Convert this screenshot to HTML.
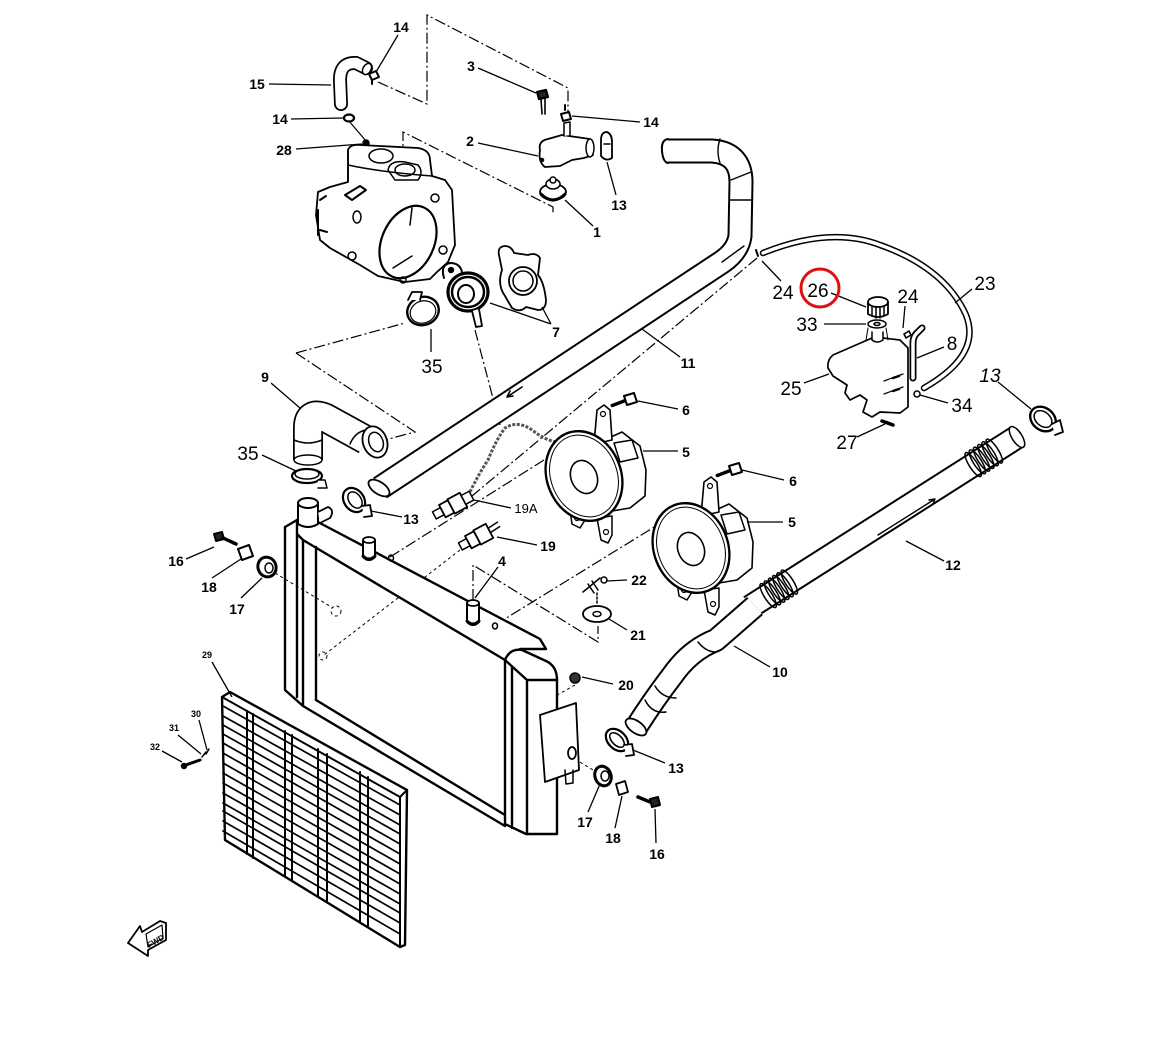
<!DOCTYPE html>
<html><head><meta charset="utf-8"><style>
html,body{margin:0;padding:0;background:#fff;}
svg{display:block;}
.b{font-family:"Liberation Sans",sans-serif;font-weight:bold;font-size:14px;fill:#000;}
.r{font-family:"Liberation Sans",sans-serif;font-size:19px;fill:#000;}
.s{font-family:"Liberation Sans",sans-serif;font-weight:bold;font-size:9px;fill:#000;}
</style></head><body>
<svg width="1151" height="1039" viewBox="0 0 1151 1039" xmlns="http://www.w3.org/2000/svg">
<rect width="1151" height="1039" fill="#fff"/>
<defs>
<g id="fan">
 <path d="M600,442 L622,432 L640,446 L646,470 L645,496 L630,508 L606,512 Z" fill="#fff" stroke="#000" stroke-width="1.6"/>
 <path d="M614,443 L632,440 L638,458 L620,462 Z" fill="#fff" stroke="#000" stroke-width="1.5"/>
 <path d="M594,444 L597,410 L604,405 L610,410 L612,440 Z" fill="#fff" stroke="#000" stroke-width="1.6"/>
 <circle cx="603" cy="414" r="2.5" fill="none" stroke="#000" stroke-width="1.2"/>
 <path d="M570,510 L572,524 L580,528 L585,520 L584,510 Z" fill="#fff" stroke="#000" stroke-width="1.5"/>
 <circle cx="577" cy="518" r="2.5" fill="none" stroke="#000" stroke-width="1.2"/>
 <path d="M597,518 L601,540 L608,543 L612,535 L612,516 Z" fill="#fff" stroke="#000" stroke-width="1.5"/>
 <circle cx="606" cy="532" r="2.5" fill="none" stroke="#000" stroke-width="1.2"/>
 <ellipse cx="584" cy="476" rx="37" ry="46" transform="rotate(-22 584 476)" fill="#fff" stroke="#000" stroke-width="2.4"/>
 <ellipse cx="584" cy="476" rx="33" ry="42" transform="rotate(-22 584 476)" fill="none" stroke="#000" stroke-width="1"/>
 <ellipse cx="584" cy="477" rx="13" ry="17" transform="rotate(-22 584 477)" fill="#fff" stroke="#000" stroke-width="1.6"/>
</g>
<g id="spring">
 <ellipse cx="0" cy="0" rx="4" ry="14" fill="none" stroke="#000" stroke-width="1.5"/>
</g>
</defs>

<!-- dash-dot construction lines -->
<g stroke="#000" stroke-width="1.2" fill="none" stroke-dasharray="11 3 2 3">
 <path d="M378,82 L427,104 L427,15 L568,88 L568,113"/>
 <path d="M403,160 L403,132 L553,207 L553,213"/>
 <path d="M296,353 L405,323"/>
 <path d="M296,353 L415,432 L377,442"/>
 <path d="M475,330 L500,425"/>
 <path d="M757,258 L472,496"/>
 <path d="M390,557 L560,450"/>
 <path d="M495,625 L690,505"/>
 <path d="M473,600 L473,565 L598,642 L598,626"/>
</g>
<g stroke="#000" stroke-width="1" fill="none" stroke-dasharray="3 3">
 <path d="M270,570 L333,608"/>
 <path d="M460,550 L324,655"/>
 <path d="M575,685 L545,702"/>
 <path d="M598,773 L560,750"/>
 <path d="M540,722 L578,742"/>
 <circle cx="336" cy="611" r="5"/>
 <circle cx="323" cy="656" r="4"/>
</g>

<!-- chain wire -->
<path d="M468,496 Q478,475 488,460 Q496,440 505,428 Q518,420 532,430 Q545,440 556,442" fill="none" stroke="#555" stroke-width="3" stroke-dasharray="3 1.5"/>

<g stroke="#000" fill="none" stroke-width="1.5" stroke-linecap="round" stroke-linejoin="round">

<!-- Hose 15 -->
<path d="M341,104 L340,80 Q340,62 356,63 L366,68" stroke-width="14"/>
<path d="M341,104 L340,80 Q340,62 356,63 L366,68" stroke="#fff" stroke-width="10.5"/>
<ellipse cx="367" cy="69" rx="4" ry="6" transform="rotate(30 367 69)" fill="#fff"/>
<!-- 14 clips -->
<path d="M369,74 l7,-3 l3,6 l-7,3 z M372,80 l0,4" stroke-width="2"/>
<ellipse cx="349" cy="118" rx="5" ry="3.5" stroke-width="2.2"/>
<path d="M561,114 l8,-2 l2,7 l-8,2 z M565,110 l0,-5" stroke-width="2"/>
<!-- 3 bolt -->
<path d="M537,92 l9,-2 l2,7 l-9,2 z" stroke-width="2.2" fill="#222"/>
<path d="M541,99 L542,114 M545,99 L545,114" stroke-width="1.6"/>
<!-- 28 -->
<circle cx="366" cy="143" r="3" fill="#000"/>
<path d="M349,121 L366,141" stroke-width="1.2"/>

<!-- engine block / thermostat housing -->
<path d="M348,150 Q350,144 360,145 L418,148 Q430,150 430,160 L432,176 L445,180 L452,190 L455,245 L448,262 L437,272 L430,279 L405,282 L378,276 L360,265 L330,248 L320,240 L316,215 L318,192 L330,187 L348,182 Z" fill="#fff" stroke-width="1.8"/>
<path d="M348,150 L348,182 M348,165 Q380,172 432,176"/>
<ellipse cx="381" cy="156" rx="12" ry="7"/>
<path d="M388,170 Q390,160 405,162 L418,165 Q424,172 418,180 L395,180 Z"/>
<ellipse cx="405" cy="170" rx="10" ry="6"/>
<ellipse cx="408" cy="242" rx="26" ry="38" transform="rotate(25 408 242)" stroke-width="2.2"/>
<path d="M412,208 L410,225 M393,268 L412,256"/>
<ellipse cx="357" cy="217" rx="4" ry="6"/>
<path d="M345,195 L360,186 L366,190 L352,200 Z" stroke-width="2"/>
<path d="M320,200 L326,196 M320,230 L327,232 M318,210 L318,235" stroke-width="2"/>
<circle cx="352" cy="256" r="4"/>
<circle cx="443" cy="250" r="4"/>
<circle cx="435" cy="198" r="4"/>
<circle cx="403" cy="280" r="3"/>

<!-- Part 2 thermostat cover -->
<path d="M540,150 Q538,141 548,139 L562,135 L576,137 L590,139 L593,155 L584,158 L572,160 L560,166 L545,167 Q538,162 540,150 Z" fill="#fff" stroke-width="1.8"/>
<path d="M564,136 L564,123 L570,122 L570,135" fill="#fff"/>
<ellipse cx="590" cy="148" rx="4" ry="9" fill="#fff"/>
<circle cx="542" cy="160" r="1.5" fill="#000"/>
<!-- 13 clip -->
<path d="M601,140 Q601,132 607,132 Q612,134 612,142 L612,158 Q606,162 601,156 Z" fill="#fff" stroke-width="1.8"/>
<path d="M604,144 L610,144"/>
<!-- Part 1 thermostat -->
<ellipse cx="553" cy="192" rx="13" ry="8" fill="#fff" stroke-width="1.8"/>
<path d="M541,194 Q553,206 565,194" stroke-width="3"/>
<ellipse cx="553" cy="184" rx="7" ry="5" fill="#fff"/>
<circle cx="553" cy="180" r="3" fill="#fff"/>

<!-- Part 7 filler neck -->
<path d="M444,278 Q440,265 450,263 Q460,263 462,272" fill="#fff" stroke-width="2"/>
<circle cx="451" cy="270" r="2.5" fill="#000"/>
<ellipse cx="468" cy="292" rx="20" ry="19" fill="#fff" stroke-width="3.2" stroke-dasharray="3 1"/>
<ellipse cx="468" cy="292" rx="16" ry="15" fill="#fff" stroke-width="2.5"/>
<ellipse cx="466" cy="294" rx="8" ry="9" fill="#fff" stroke-width="2"/>
<path d="M472,311 L476,327 L482,326 L479,309" fill="#fff" stroke-width="1.8"/>
<!-- cap -->
<path d="M499,255 Q497,246 506,246 Q512,247 514,253 L528,255 Q536,252 540,258 L538,275 Q544,282 546,300 Q546,310 538,310 L526,307 Q520,313 512,308 L505,296 Q497,285 502,270 Z" fill="#fff" stroke-width="1.8"/>
<circle cx="523" cy="281" r="14" fill="#fff" stroke-width="1.8"/>
<circle cx="523" cy="281" r="10"/>
<!-- clamp 35 upper -->
<ellipse cx="423" cy="311" rx="16" ry="14" transform="rotate(-20 423 311)" fill="#fff" stroke-width="2.4"/>
<ellipse cx="423" cy="312" rx="13" ry="11" transform="rotate(-20 423 312)" stroke-width="1.2"/>
<path d="M408,300 L412,292 L422,292 L420,300" fill="#fff" stroke-width="1.8"/>

<!-- Hose 11 -->
<path d="M668,151 L712,151 Q741,153 741,182 L740,236 Q738,251 722,262 L380,488" stroke-width="25" stroke-linecap="butt"/>
<path d="M668,151 L712,151 Q741,153 741,182 L740,236 Q738,251 722,262 L380,488" stroke="#fff" stroke-width="21" stroke-linecap="butt"/>
<path d="M668,139 Q661,140 662,151 Q663,162 668,163" stroke-width="2"/>
<path d="M720,139 Q716,151 720,163 M730,200 L752,200 M731,180 L751,172 M722,262 L744,246" stroke-width="1.4"/>
<ellipse cx="379" cy="488" rx="6" ry="12" transform="rotate(-56 379 488)" fill="#fff" stroke-width="1.8"/>
<path d="M507,397 L522,387 M507,397 l3,-6 M507,397 l6,-1" stroke-width="1.6"/>

<!-- Hose 9 -->
<path d="M308,460 L308,428 Q308,410 326,418 L366,440" stroke-width="30" stroke-linecap="butt"/>
<path d="M308,460 L308,428 Q308,410 326,418 L366,440" stroke="#fff" stroke-width="26.5" stroke-linecap="butt"/>
<path d="M294,440 Q308,446 322,440 M350,444 Q355,432 366,430"/>
<ellipse cx="375" cy="442" rx="12" ry="16" transform="rotate(-20 375 442)" fill="#fff" stroke-width="1.8"/>
<ellipse cx="376" cy="442" rx="7" ry="10" transform="rotate(-20 376 442)" stroke-width="1.5"/>
<ellipse cx="308" cy="460" rx="14" ry="5" fill="#fff"/>
<!-- clamp 35 lower -->
<ellipse cx="307" cy="476" rx="15" ry="7" fill="#fff" stroke-width="2.2"/>
<ellipse cx="307" cy="474" rx="12" ry="5"/>
<path d="M318,480 L325,480 L327,488 L318,488" fill="#fff"/>

<!-- Radiator -->
<g stroke-width="2.4">
<path d="M297,520 L316,521 L540,639 L546,649 L520,649 L505,660 L303,540 L297,534 Z" fill="#fff"/>
<path d="M285,527 L297,520 M285,527 L285,690 L303,706 L505,826 M316,700 L505,815"/>
<path d="M297,534 L297,697 M303,540 L303,706 M316,547 L316,700"/>
<path d="M505,660 L505,824 L526,834 L557,834 L557,680 Q557,666 546,661 L522,650 Q510,648 505,660 Z" fill="#fff"/>
<path d="M505,660 L527,680 L557,680 M527,680 L527,834 M512,667 L512,828"/>
</g>
<!-- filler neck on radiator -->
<path d="M298,503 L298,524 Q308,530 318,524 L318,503" fill="#fff" stroke-width="2"/>
<ellipse cx="308" cy="503" rx="10" ry="5" fill="#fff" stroke-width="2"/>
<path d="M318,512 L328,507 Q335,510 330,518 L320,523" fill="#fff" stroke-width="1.8"/>
<!-- clamp 13 -->
<ellipse cx="354" cy="500" rx="10" ry="13" transform="rotate(-35 354 500)" fill="#fff" stroke-width="2.2"/>
<ellipse cx="355" cy="500" rx="6" ry="9" transform="rotate(-35 355 500)"/>
<path d="M362,506 L370,505 L372,516 L364,517" fill="#fff" stroke-width="1.8"/>
<!-- studs -->
<path d="M363,540 L363,557 Q369,563 375,557 L375,540" fill="#fff" stroke-width="2"/>
<ellipse cx="369" cy="540" rx="6" ry="3" fill="#fff" stroke-width="1.8"/>
<path d="M363,556 Q369,562 375,556" stroke-width="3"/>
<path d="M467,603 L467,622 Q473,628 479,622 L479,603" fill="#fff" stroke-width="2"/>
<ellipse cx="473" cy="603" rx="6" ry="3" fill="#fff" stroke-width="1.8"/>
<path d="M467,621 Q473,627 479,621" stroke-width="3"/>
<ellipse cx="391" cy="558" rx="2.5" ry="3"/>
<ellipse cx="495" cy="626" rx="2.5" ry="3"/>
<!-- bracket on right tank -->
<path d="M540,715 L576,703 L579,770 L545,782 Z" fill="#fff" stroke-width="1.8"/>
<ellipse cx="572" cy="753" rx="4" ry="6" stroke-width="1.8"/>
<path d="M565,770 L566,784 L573,783 L573,770"/>
<!-- 20 nut -->
<circle cx="575" cy="678" r="5" fill="#333"/>

<!-- Sensors -->
<g transform="translate(452,506) rotate(-28)">
 <rect x="-20" y="-4" width="9" height="8" fill="#fff"/>
 <rect x="-11" y="-7" width="10" height="14" fill="#fff" stroke-width="1.8"/>
 <rect x="-1" y="-8" width="14" height="16" fill="#fff" stroke-width="1.8"/>
 <rect x="13" y="-5" width="9" height="10" fill="#fff"/>
</g>
<g transform="translate(478,537) rotate(-28)">
 <rect x="-20" y="-4" width="9" height="8" fill="#fff"/>
 <rect x="-11" y="-7" width="10" height="14" fill="#fff" stroke-width="1.8"/>
 <rect x="-1" y="-8" width="14" height="16" fill="#fff" stroke-width="1.8"/>
 <path d="M13,-3 L24,-4 M13,2 L24,1"/>
</g>

<!-- 16 18 17 left -->
<path d="M214,534 l8,-2 l2,7 l-8,2 z" fill="#222" stroke-width="2"/>
<path d="M223,538 L236,544" stroke-width="3.5" stroke-dasharray="2 1.5"/>
<path d="M238,549 L249,545 L253,556 L242,560 Z" fill="#fff" stroke-width="2"/>
<ellipse cx="267" cy="567" rx="9" ry="10" transform="rotate(-20 267 567)" fill="#fff" stroke-width="3"/>
<ellipse cx="269" cy="568" rx="4" ry="5" fill="#fff" stroke-width="1.5"/>

<!-- Fans -->
<use href="#fan"/>
<use href="#fan" transform="translate(107,72)"/>
<!-- bolts 6 -->
<path d="M624,396 l10,-3 l3,9 l-10,3 z" fill="#fff" stroke-width="2"/>
<path d="M624,401 L611,406" stroke-width="3.5" stroke-dasharray="2 1.5"/>
<path d="M729,466 l10,-3 l3,9 l-10,3 z" fill="#fff" stroke-width="2"/>
<path d="M729,471 L716,476" stroke-width="3.5" stroke-dasharray="2 1.5"/>
<!-- 22, 21 -->
<path d="M583,592 L600,578 M588,584 L594,593 M592,581 L598,590"/>
<circle cx="604" cy="580" r="3"/>
<path d="M597,593 L597,605" stroke-dasharray="2 2"/>
<ellipse cx="597" cy="614" rx="14" ry="8" fill="#fff" stroke-width="1.8"/>
<ellipse cx="597" cy="614" rx="4" ry="2.5"/>

<!-- Hose 12 -->
<path d="M1017,437 L750,607" stroke-width="25" stroke-linecap="butt"/>
<path d="M1017,437 L750,607" stroke="#fff" stroke-width="21" stroke-linecap="butt"/>
<ellipse cx="1017" cy="437" rx="5" ry="12" transform="rotate(-32.5 1017 437)" fill="#fff"/>
<path d="M878,535 L935,499 M935,499 l-6,1 M935,499 l-2,5" stroke-width="1.4"/>
<g transform="translate(985,457) rotate(-32.5)">
 <use href="#spring" x="-14"/><use href="#spring" x="-9"/><use href="#spring" x="-4"/><use href="#spring" x="1"/><use href="#spring" x="6"/><use href="#spring" x="11"/>
</g>
<!-- Hose 10 -->
<path d="M637,726 Q655,698 672,676 Q690,650 716,640 L755,606" stroke-width="24" stroke-linecap="butt"/>
<path d="M637,726 Q655,698 672,676 Q690,650 716,640 L755,606" stroke="#fff" stroke-width="20" stroke-linecap="butt"/>
<ellipse cx="636" cy="727" rx="6" ry="12" transform="rotate(-55 636 727)" fill="#fff" stroke-width="1.8"/>
<path d="M645,700 Q652,714 666,712 M655,686 Q662,698 676,698 M698,642 Q706,652 716,652"/>
<g transform="translate(780,588) rotate(-32.5)">
 <use href="#spring" x="-14"/><use href="#spring" x="-9"/><use href="#spring" x="-4"/><use href="#spring" x="1"/><use href="#spring" x="6"/><use href="#spring" x="11"/>
</g>
<!-- clamp 13 lower -->
<ellipse cx="617" cy="740" rx="9" ry="13" transform="rotate(-45 617 740)" fill="#fff" stroke-width="2.2"/>
<ellipse cx="617" cy="740" rx="5" ry="9" transform="rotate(-45 617 740)"/>
<path d="M624,745 L632,744 L634,755 L626,756" fill="#fff" stroke-width="1.8"/>
<!-- 17 18 16 right -->
<ellipse cx="603" cy="776" rx="8" ry="10" transform="rotate(-20 603 776)" fill="#fff" stroke-width="3"/>
<ellipse cx="605" cy="776" rx="4" ry="5" fill="#fff"/>
<path d="M616,784 L625,781 L628,792 L619,795 Z" fill="#fff" stroke-width="1.8"/>
<path d="M638,797 L650,802" stroke-width="3.5" stroke-dasharray="2 1.5"/>
<path d="M650,799 l8,-2 l2,8 l-8,2 z" fill="#222" stroke-width="2"/>

<!-- clamp 13 upper right -->
<ellipse cx="1043" cy="419" rx="11" ry="14" transform="rotate(-50 1043 419)" fill="#fff" stroke-width="2.4"/>
<ellipse cx="1043" cy="419" rx="7" ry="10" transform="rotate(-50 1043 419)"/>
<path d="M1052,424 L1060,420 L1063,432 L1055,435" fill="#fff" stroke-width="1.8"/>

<!-- Hose 23 -->
<path d="M763,253 Q830,226 880,245 Q945,268 966,315 Q982,355 924,388" stroke-width="6.5"/>
<path d="M763,253 Q830,226 880,245 Q945,268 966,315 Q982,355 924,388" stroke="#fff" stroke-width="3.5"/>
<path d="M756,250 L758,256" stroke-width="2"/>
<!-- Reservoir 25 -->
<path d="M872,338 L833,355 Q827,360 828,368 L833,376 L847,385 L845,393 L850,400 L860,395 L867,400 L863,412 L872,417 L880,412 L900,413 L908,407 L908,348 L900,340 L883,338" fill="#fff" stroke-width="1.7"/>
<path d="M872,332 L872,340 Q877,344 883,340 L883,332" fill="#fff"/>
<path d="M866,340 L868,328 M888,340 L886,328" stroke-width="1"/>
<path d="M884,381 L903,374 M884,394 L903,387" stroke-width="1.2"/>
<path d="M893,378 l6,-2 M893,391 l6,-2" stroke-width="2.5"/>
<path d="M904,334 l5,-3 l2,4 l-5,3 z" stroke-width="1.6"/>
<!-- tube 8 -->
<path d="M913,378 L913,343 Q913,336 918,332 L922,328" stroke-width="7"/>
<path d="M913,378 L913,343 Q913,336 918,332 L922,328" stroke="#fff" stroke-width="3.5"/>
<circle cx="917" cy="394" r="3"/>
<!-- cap 26 -->
<path d="M868,302 L868,314 Q878,320 888,314 L888,302" fill="#fff" stroke-width="1.8"/>
<ellipse cx="878" cy="302" rx="10" ry="5" fill="#fff" stroke-width="1.8"/>
<path d="M872,307 L872,316 M876,308 L876,318 M880,308 L880,318 M884,307 L884,316"/>
<ellipse cx="877" cy="324" rx="9" ry="4"/>
<ellipse cx="877" cy="324" rx="3" ry="1.5"/>
<!-- 27 bolt -->
<path d="M882,421 L893,425" stroke-width="3.5"/>

<!-- Grille 29 -->
<path d="M222,697 L230,692 L407,790 L405,945 L400,947 L225,840 Z" fill="#fff" stroke-width="2.4"/>
<path d="M222,697 L400,797 L400,945 M400,797 L407,790" stroke-width="2"/>
<g stroke-width="1.7">
<path d="M223,706 L400,805 M223,716 L400,815 M223,725 L400,825 M223,734 L400,834 M223,743 L400,844 M223,753 L400,854 M223,763 L400,864 M223,773 L400,874 M223,783 L400,884 M223,793 L400,894 M223,803 L400,904 M223,811 L400,913 M223,821 L400,923 M223,831 L400,934"/>
</g>
<g stroke-width="2">
<path d="M247,711 L247,854 M253,714 L253,858 M285,731 L285,877 M292,735 L292,881 M318,749 L318,896 M327,754 L327,901 M360,772 L360,921 M368,777 L368,926"/>
</g>
<!-- 30 31 32 screws -->
<path d="M183,766 L200,760" stroke-width="3"/>
<circle cx="184" cy="766" r="2.5" fill="#000"/>
<path d="M202,757 L206,752 M206,754 L209,749" stroke-width="1.5"/>
<!-- FWD arrow -->
<path d="M128,943 L140,926 L142,932 L160,921 L166,923 L166,940 L148,950 L148,956 Z" fill="#fff" stroke-width="1.8"/>
<path d="M146,934 L162,925 L163,938 L148,947 Z" stroke-width="1.2"/>
</g>
<text x="155" y="944" transform="rotate(-30 155 940)" font-family="Liberation Sans,sans-serif" font-weight="bold" font-size="8" text-anchor="middle">FWD</text>

<!-- leader lines -->
<g stroke="#000" stroke-width="1.3" fill="none">
 <path d="M398,35 L376,72"/>
 <path d="M269,84 L331,85"/>
 <path d="M478,68 L536,93"/>
 <path d="M291,119 L343,118"/>
 <path d="M640,122 L572,116"/>
 <path d="M478,143 L538,156"/>
 <path d="M296,149 L362,144"/>
 <path d="M616,195 L607,162"/>
 <path d="M593,226 L565,200"/>
 <path d="M551,324 L490,303 M551,324 L542,307"/>
 <path d="M431,329 L431,352"/>
 <path d="M271,383 L300,408"/>
 <path d="M680,357 L642,329"/>
 <path d="M678,409 L638,401"/>
 <path d="M781,281 L762,261"/>
 <path d="M831,293 L866,307"/>
 <path d="M905,306 L903,328"/>
 <path d="M972,289 L955,303"/>
 <path d="M824,324 L866,324"/>
 <path d="M944,347 L917,358"/>
 <path d="M804,383 L829,374"/>
 <path d="M998,382 L1031,409"/>
 <path d="M948,403 L920,395"/>
 <path d="M857,437 L885,424"/>
 <path d="M262,455 L296,471"/>
 <path d="M678,451 L643,451"/>
 <path d="M784,480 L742,470"/>
 <path d="M783,522 L747,522"/>
 <path d="M402,517 L371,511"/>
 <path d="M511,508 L474,500"/>
 <path d="M537,545 L497,537"/>
 <path d="M186,559 L214,547"/>
 <path d="M498,567 L475,598"/>
 <path d="M944,561 L906,541"/>
 <path d="M212,578 L241,559"/>
 <path d="M627,580 L607,581"/>
 <path d="M241,598 L262,578"/>
 <path d="M627,630 L609,619"/>
 <path d="M212,662 L232,697"/>
 <path d="M613,684 L582,677"/>
 <path d="M770,667 L734,646"/>
 <path d="M199,720 L207,750"/>
 <path d="M178,735 L201,754"/>
 <path d="M162,751 L182,762"/>
 <path d="M665,763 L633,750"/>
 <path d="M588,812 L600,784"/>
 <path d="M615,828 L622,796"/>
 <path d="M656,843 L655,809"/>
</g>

<!-- labels -->
<g text-anchor="middle">
<text class="b" x="401" y="32">14</text>
<text class="b" x="257" y="89">15</text>
<text class="b" x="471" y="71">3</text>
<text class="b" x="280" y="124">14</text>
<text class="b" x="651" y="127">14</text>
<text class="b" x="470" y="146">2</text>
<text class="b" x="284" y="155">28</text>
<text class="b" x="619" y="210">13</text>
<text class="b" x="597" y="237">1</text>
<text class="b" x="556" y="337">7</text>
<text class="r" x="432" y="373">35</text>
<text class="b" x="265" y="382">9</text>
<text class="b" x="688" y="368">11</text>
<text class="b" x="686" y="415">6</text>
<text class="r" x="783" y="299">24</text>
<text class="r" x="818" y="297">26</text>
<text class="r" x="908" y="303">24</text>
<text class="r" x="985" y="290">23</text>
<text class="r" x="807" y="331">33</text>
<text class="r" x="952" y="350">8</text>
<text class="r" x="791" y="395">25</text>
<text class="r" x="990" y="382" font-style="italic">13</text>
<text class="r" x="962" y="412">34</text>
<text class="r" x="847" y="449">27</text>
<text class="r" x="248" y="460">35</text>
<text class="b" x="686" y="457">5</text>
<text class="b" x="793" y="486">6</text>
<text class="b" x="792" y="527">5</text>
<text class="b" x="411" y="524">13</text>
<text class="b" x="526" y="513" style="font-weight:normal;font-size:13px">19A</text>
<text class="b" x="548" y="551">19</text>
<text class="b" x="176" y="566">16</text>
<text class="b" x="502" y="566">4</text>
<text class="b" x="953" y="570">12</text>
<text class="b" x="209" y="592">18</text>
<text class="b" x="639" y="585">22</text>
<text class="b" x="237" y="614">17</text>
<text class="b" x="638" y="640">21</text>
<text class="s" x="207" y="658">29</text>
<text class="b" x="626" y="690">20</text>
<text class="b" x="780" y="677">10</text>
<text class="s" x="196" y="717">30</text>
<text class="s" x="174" y="731">31</text>
<text class="s" x="155" y="750">32</text>
<text class="b" x="676" y="773">13</text>
<text class="b" x="585" y="827">17</text>
<text class="b" x="613" y="843">18</text>
<text class="b" x="657" y="859">16</text>
</g>

<!-- red highlight circle -->
<circle cx="820" cy="288" r="19" fill="none" stroke="#e01010" stroke-width="3"/>
</svg>
</body></html>
